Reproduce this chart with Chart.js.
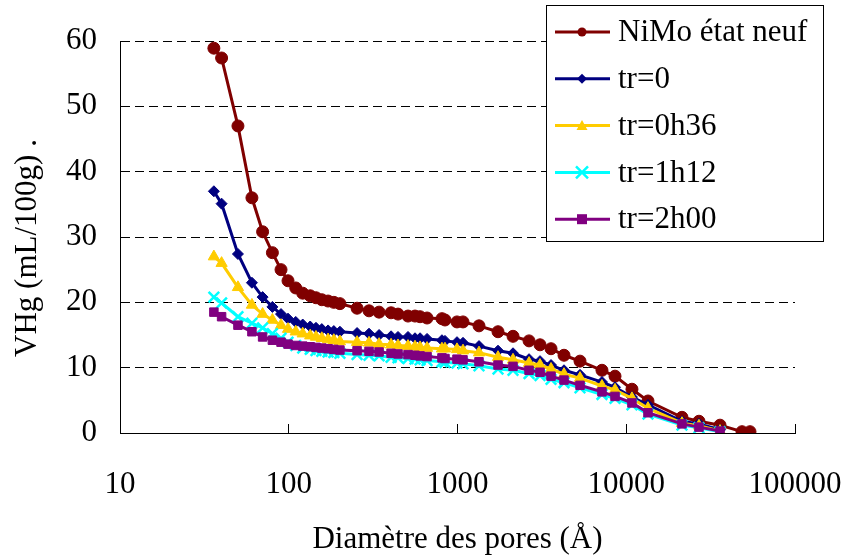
<!DOCTYPE html>
<html>
<head>
<meta charset="utf-8">
<script src="https://cdn.jsdelivr.net/npm/chart.js@4.4.0/dist/chart.umd.min.js"></script>
<style>
    body { margin: 0; background: #fff; }
    canvas { display: block; }
</style>
</head>
<body>
<canvas id="myChart" width="844" height="558"></canvas>
<script>
// diametres des pores (A)
let diametres = [36, 40, 50, 60.5, 70, 80, 90, 99, 110, 121, 134, 145, 157, 171, 185, 201, 254, 299, 343, 404,
    444, 509, 560, 600, 660, 809, 843, 993, 1078, 1341, 1738, 2133, 2654, 3083, 3583, 4277, 5321, 7180, 8578, 10810,
    13450, 21390, 26970, 35950, 48530, 54110]

// volumes Hg (mL/100g)
let nimoNeuf = [58.9, 57.4, 47.0, 36.0, 30.8, 27.6, 25.0, 23.3, 22.2, 21.4, 21.0, 20.7, 20.4, 20.2, 20.0, 19.8, 19.1, 18.7, 18.5, 18.4,
    18.2, 17.9, 17.9, 17.8, 17.6, 17.5, 17.3, 17.0, 17.0, 16.4, 15.5, 14.8, 14.1, 13.5, 12.9, 11.9, 11.0, 9.6, 8.7, 6.7,
    4.9, 2.4, 1.8, 1.2, 0.2, 0.2]
let tr0 = [37.0, 35.1, 27.4, 23.0, 20.8, 19.3, 18.2, 17.5, 17.0, 16.6, 16.3, 16.1, 15.9, 15.7, 15.6, 15.5, 15.3, 15.2, 15.0, 14.8,
    14.7, 14.7, 14.5, 14.5, 14.4, 14.2, 14.1, 13.9, 13.8, 13.3, 12.6, 12.2, 11.3, 11.0, 10.4, 9.6, 8.9, 7.8, 7.0, 5.5,
    4.3, 1.8, 1.4, 0.5]
let tr0h36 = [27.0, 26.0, 22.3, 19.6, 18.2, 17.3, 16.5, 15.9, 15.5, 15.2, 14.9, 14.7, 14.5, 14.3, 14.2, 14.0, 13.9, 13.8, 13.6, 13.5,
    13.4, 13.3, 13.2, 13.1, 13.0, 12.9, 12.9, 12.8, 12.6, 12.3, 11.6, 11.2, 10.7, 10.4, 9.8, 9.0, 8.4, 7.2, 6.6, 5.3,
    3.8, 1.5, 1.1, 0.3]
let tr1h12 = [20.8, 19.9, 17.8, 16.8, 16.1, 15.2, 14.5, 13.9, 13.4, 13.0, 12.8, 12.6, 12.5, 12.4, 12.3, 12.2, 12.0, 11.9, 11.8, 11.6,
    11.5, 11.4, 11.3, 11.2, 11.1, 10.9, 10.8, 10.7, 10.6, 10.3, 9.8, 9.6, 9.1, 8.8, 8.2, 7.7, 6.9, 5.9, 5.3, 4.3,
    2.9, 1.2, 0.8, 0.2]
let tr2h00 = [18.5, 17.8, 16.5, 15.5, 14.7, 14.2, 13.9, 13.6, 13.4, 13.3, 13.2, 13.1, 13.0, 12.9, 12.8, 12.7, 12.6, 12.5, 12.4, 12.2,
    12.1, 12.0, 11.9, 11.8, 11.7, 11.5, 11.4, 11.3, 11.2, 10.9, 10.4, 10.2, 9.6, 9.3, 8.7, 8.1, 7.3, 6.3, 5.6, 4.6,
    3.1, 1.4, 0.9, 0.3]

let xTicks = [10, 100, 1000, 10000, 100000]
let yTicks = [0, 10, 20, 30, 40, 50, 60]

function points(ys) {
    return ys.map((y, i) => ({x: diametres[i], y: y}))
}

function serie(label, ys, color, style, radius, order) {
    return {
        label: label,
        data: points(ys),
        borderColor: color,
        backgroundColor: color,
        borderWidth: 3,
        pointStyle: style,
        pointRadius: radius,
        pointBorderWidth: style === 'crossRot' ? 2.5 : 1,
        pointHoverRadius: radius,
        order: order,
        tension: 0
    }
}

Chart.defaults.font.family = "'Liberation Serif', 'Times New Roman', serif"
Chart.defaults.font.size = 31
Chart.defaults.color = '#000'

// petit marqueur pour la legende
function marker(ctx, style, x, y, r) {
    ctx.beginPath()
    if (style === 'circle') {
        ctx.arc(x, y, r, 0, Math.PI * 2)
        ctx.fill()
    } else if (style === 'rectRot') {
        ctx.moveTo(x, y - r); ctx.lineTo(x + r, y); ctx.lineTo(x, y + r); ctx.lineTo(x - r, y)
        ctx.closePath(); ctx.fill()
    } else if (style === 'triangle') {
        ctx.moveTo(x, y - r); ctx.lineTo(x + r, y + r * 0.8); ctx.lineTo(x - r, y + r * 0.8)
        ctx.closePath(); ctx.fill()
    } else if (style === 'crossRot') {
        ctx.moveTo(x - r, y - r); ctx.lineTo(x + r, y + r)
        ctx.moveTo(x + r, y - r); ctx.lineTo(x - r, y + r)
        ctx.stroke()
    } else {
        ctx.fillRect(x - r, y - r, 2 * r, 2 * r)
    }
}

// legende dans un cadre, par dessus le graphique
let legendBox = {
    id: 'legendBox',
    afterDraw(chart) {
        let ctx = chart.ctx
        let radii = [4.5, 5, 5.5, 6, 5]
        ctx.save()
        ctx.fillStyle = '#fff'
        ctx.fillRect(546, 5, 277, 236)
        ctx.strokeStyle = '#000'
        ctx.lineWidth = 1
        ctx.strokeRect(546.5, 5.5, 277, 236)
        chart.data.datasets.forEach((ds, i) => {
            let y = 32 + i * 46.8
            ctx.strokeStyle = ds.borderColor
            ctx.lineWidth = 3
            ctx.beginPath()
            ctx.moveTo(555, y)
            ctx.lineTo(610, y)
            ctx.stroke()
            ctx.fillStyle = ds.backgroundColor
            ctx.lineWidth = 2.5
            marker(ctx, ds.pointStyle, 582, y, radii[i])
            ctx.fillStyle = '#000'
            ctx.font = "31px 'Liberation Serif'"
            ctx.textBaseline = 'middle'
            ctx.textAlign = 'left'
            ctx.fillText(ds.label, 618, y + 1)
        })
        // titre de l'axe vertical
        ctx.translate(28, 248)
        ctx.rotate(-Math.PI / 2)
        ctx.textAlign = 'center'
        ctx.textBaseline = 'middle'
        ctx.fillStyle = '#000'
        ctx.font = "31px 'Liberation Serif'"
        ctx.fillText('VHg (mL/100g) .', 0, 0)
        ctx.restore()
    }
}

let ctx = document.getElementById("myChart").getContext("2d")
let myChart = new Chart(ctx, {
    type: 'line',
    data: {
        datasets: [
            serie('NiMo état neuf', nimoNeuf, '#800000', 'circle', 6, 5),
            serie('tr=0', tr0, '#000080', 'rectRot', 5.5, 4),
            serie('tr=0h36', tr0h36, '#FFCC00', 'triangle', 6.5, 3),
            serie('tr=1h12', tr1h12, '#00FFFF', 'crossRot', 7.5, 2),
            serie('tr=2h00', tr2h00, '#800080', 'rect', 6, 1)
        ]
    },
    plugins: [legendBox],
    options: {
        responsive: false,
        animation: false,
        layout: {padding: {top: 41, right: 49, bottom: 0, left: 0}},
        plugins: {
            legend: {display: false},
            tooltip: {enabled: false}
        },
        scales: {
            x: {
                type: 'logarithmic',
                min: 10,
                max: 100000,
                afterBuildTicks: (scale) => {
                    scale.ticks = xTicks.map(v => ({value: v}))
                },
                afterFit: (scale) => {
                    scale.height = 125
                    scale.paddingLeft = 0
                    scale.paddingRight = 0
                },
                ticks: {
                    maxRotation: 0,
                    autoSkip: false,
                    padding: 42,
                    callback: (v) => String(v)
                },
                grid: {
                    drawOnChartArea: false,
                    drawTicks: true,
                    tickLength: -9,
                    tickColor: '#000',
                    tickWidth: 1
                },
                border: {color: '#000', width: 1},
                title: {
                    display: true,
                    text: 'Diamètre des pores (Å)',
                    padding: {top: 0, bottom: 0}
                }
            },
            y: {
                min: 0,
                max: 60,
                afterBuildTicks: (scale) => {
                    scale.ticks = yTicks.map(v => ({value: v}))
                },
                afterFit: (scale) => {
                    scale.width = 120
                    scale.paddingTop = 0
                    scale.paddingBottom = 0
                },
                ticks: {padding: 32},
                grid: {
                    color: (c) => (c.tick && c.tick.value === 0) ? 'rgba(0,0,0,0)' : '#000',
                    lineWidth: 1,
                    drawTicks: true,
                    tickLength: -9,
                    tickColor: '#000',
                    tickWidth: 1
                },
                border: {color: '#000', width: 1, dash: [9, 5]}
            }
        }
    }
})
</script>
</body>
</html>
